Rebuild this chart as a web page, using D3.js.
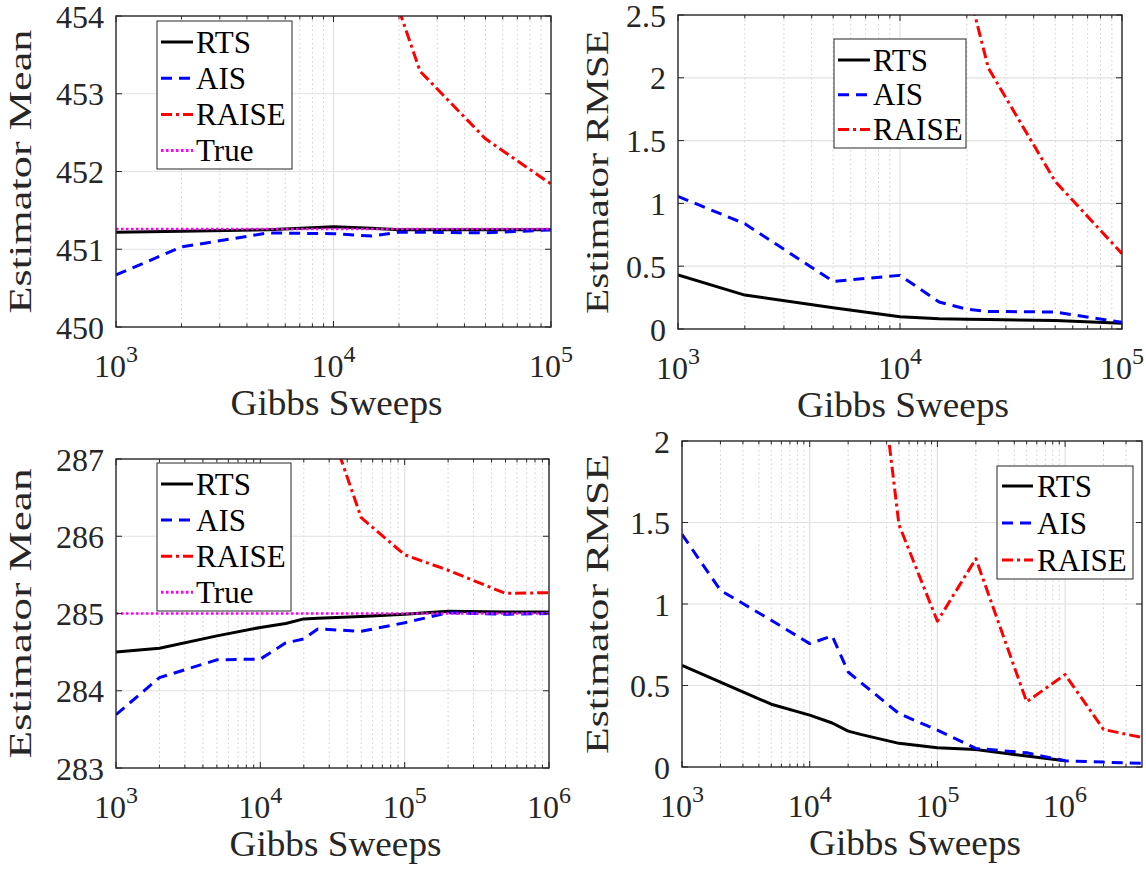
<!DOCTYPE html>
<html><head><meta charset="utf-8">
<script src="https://cdn.jsdelivr.net/npm/d3@7"></script>
<style>body{margin:0;background:#fff}svg{display:block}</style>
</head><body>
<svg id="c" width="1146" height="869" font-family="'Liberation Serif', 'Times New Roman', Times, serif"></svg>
<script>
// ---------- data ----------
const sweepsTop = [1e3, 2e3, 5e3, 1e4, 1.5e4, 2e4, 2.5e4, 5e4, 1e5];
const meanTopRTS   = [451.22, 451.23, 451.25, 451.29, 451.27, 451.25, 451.25, 451.25, 451.25];
const meanTopAIS   = [450.67, 451.03, 451.21, 451.20, 451.17, 451.22, 451.22, 451.21, 451.25];
const meanTopRAISE = [null, null, null, null, null, 454.08, 453.29, 452.42, 451.84];
const meanTopTrue  = 451.26;
const rmseTopRTS   = [0.43, 0.27, 0.17, 0.098, 0.082, 0.078, 0.075, 0.068, 0.046];
const rmseTopAIS   = [1.056, 0.838, 0.379, 0.427, 0.215, 0.158, 0.14, 0.135, 0.053];
const rmseTopRAISE = [null, null, null, null, null, 2.75, 2.078, 1.175, 0.60];

const sweepsBot = [1e3, 2e3, 5e3, 1e4, 1.5e4, 2e4, 2.5e4, 5e4, 1e5, 2e5, 5e5, 1e6, 2e6, 4e6];
const meanBotRTS   = [284.50, 284.55, 284.71, 284.82, 284.87, 284.93, 284.94, 284.96, 284.99, 285.03, 285.02, 285.02, null, null];
const meanBotAIS   = [283.69, 284.17, 284.40, 284.41, 284.62, 284.67, 284.80, 284.77, 284.88, 285.01, 284.99, 285.00, null, null];
const meanBotRAISE = [null, null, null, null, null, null, 287.87, 286.24, 285.76, 285.56, 285.26, 285.27, null, null];
const meanBotTrue  = 285.0;
const rmseBotRTS   = [0.624, 0.52, 0.385, 0.318, 0.27, 0.22, 0.20, 0.145, 0.118, 0.108, 0.067, 0.038, null, null];
const rmseBotAIS   = [1.427, 1.084, 0.90, 0.757, 0.804, 0.583, 0.52, 0.328, 0.226, 0.114, 0.087, 0.038, 0.03, 0.022];
const rmseBotRAISE = [null, null, null, null, null, null, 3.45, 1.486, 0.894, 1.278, 0.40, 0.567, 0.23, 0.181];

const seriesNames = ["RTS", "AIS", "RAISE", "True"];
const yTicksMeanTop = [450, 451, 452, 453, 454];
const yTicksRmseTop = [0, 0.5, 1, 1.5, 2, 2.5];
const yTicksMeanBot = [283, 284, 285, 286, 287];
const yTicksRmseBot = [0, 0.5, 1, 1.5, 2];
const xLabel = "Gibbs Sweeps";
const yLabelMean = "Estimator Mean";
const yLabelRmse = "Estimator RMSE";

// ---------- styles ----------
const FONT = "'Liberation Serif', 'Times New Roman', Times, serif";
const styles = {
  RTS:   {color: "#000000", dash: null,          width: 3},
  AIS:   {color: "#0000ff", dash: "11,7",        width: 3},
  RAISE: {color: "#ff0000", dash: "11,4,3,4",    width: 3},
  True:  {color: "#ff00ff", dash: "2.5,2.5",     width: 3}
};

const svg = d3.select("#c");
const axisColor = "#262626";

function panel(cfg) {
  const {left, right, top, bottom, xDomain, yDomain, yTicks, xs, series, trueVal, legend, yLabel, yLabelX, yLabelLen, id} = cfg;
  const x = d3.scaleLog().domain(xDomain).range([left, right]);
  const y = d3.scaleLinear().domain(yDomain).range([bottom, top]);
  const g = svg.append("g").attr("font-family", FONT);
  g.append("clipPath").attr("id", "clip" + id).append("rect")
    .attr("x", left).attr("y", top).attr("width", right - left).attr("height", bottom - top);
  g.append("rect").attr("x", left).attr("y", top).attr("width", right - left).attr("height", bottom - top).attr("fill", "#fff");

  const allX = x.ticks();
  const isMajor = v => Math.abs(Math.log10(v) - Math.round(Math.log10(v))) < 1e-9;
  const minors = allX.filter(v => !isMajor(v) && v > xDomain[0] && v < xDomain[1]);
  const majors = allX.filter(isMajor);

  g.selectAll(".mg").data(minors).join("line")
    .attr("x1", d => x(d)).attr("x2", d => x(d)).attr("y1", top).attr("y2", bottom)
    .attr("stroke", "#cfcfcf").attr("stroke-width", 1).attr("stroke-dasharray", "1.5,3");
  g.selectAll(".Mg").data(majors.filter(v => v > xDomain[0] && v < xDomain[1])).join("line")
    .attr("x1", d => x(d)).attr("x2", d => x(d)).attr("y1", top).attr("y2", bottom)
    .attr("stroke", "#e1e1e1").attr("stroke-width", 1.2);
  g.selectAll(".yg").data(yTicks.filter(v => v > yDomain[0] && v < yDomain[1])).join("line")
    .attr("x1", left).attr("x2", right).attr("y1", d => y(d)).attr("y2", d => y(d))
    .attr("stroke", "#e1e1e1").attr("stroke-width", 1.2);

  const plot = g.append("g").attr("clip-path", `url(#clip${id})`);
  const line = d3.line().defined(d => d[1] !== null).x(d => x(d[0])).y(d => y(d[1]));
  ["RTS", "AIS", "RAISE"].forEach(name => {
    const s = styles[name];
    const pts = xs.map((v, i) => [v, series[name][i]]);
    plot.append("path").datum(pts).attr("d", line).attr("fill", "none")
      .attr("stroke", s.color).attr("stroke-width", s.width)
      .attr("stroke-dasharray", s.dash).attr("stroke-linejoin", "round");
  });
  if (trueVal !== undefined) {
    const s = styles.True;
    plot.append("path").datum([[xDomain[0], trueVal], [xDomain[1], trueVal]])
      .attr("d", line).attr("fill", "none").attr("stroke", s.color).attr("stroke-width", 2.5)
      .attr("stroke-dasharray", s.dash);
  }

  const tk = g.append("g").attr("stroke", axisColor).attr("stroke-width", 1);
  majors.forEach(v => {
    tk.append("line").attr("x1", x(v)).attr("x2", x(v)).attr("y1", bottom).attr("y2", bottom - 6);
    tk.append("line").attr("x1", x(v)).attr("x2", x(v)).attr("y1", top).attr("y2", top + 6);
  });
  minors.forEach(v => {
    tk.append("line").attr("x1", x(v)).attr("x2", x(v)).attr("y1", bottom).attr("y2", bottom - 3.5);
    tk.append("line").attr("x1", x(v)).attr("x2", x(v)).attr("y1", top).attr("y2", top + 3.5);
  });
  yTicks.forEach(v => {
    tk.append("line").attr("x1", left).attr("x2", left + 6).attr("y1", y(v)).attr("y2", y(v));
    tk.append("line").attr("x1", right).attr("x2", right - 6).attr("y1", y(v)).attr("y2", y(v));
  });
  g.append("rect").attr("x", left).attr("y", top).attr("width", right - left).attr("height", bottom - top)
    .attr("fill", "none").attr("stroke", axisColor).attr("stroke-width", 1.4);

  g.selectAll(".yl").data(yTicks).join("text")
    .attr("font-family", FONT)
    .attr("x", left - 12).attr("y", d => y(d)).attr("dy", "0.36em")
    .attr("text-anchor", "end").attr("font-size", 32).attr("fill", axisColor)
    .text(d => d3.format("~g")(d));
  majors.forEach(v => {
    const t = g.append("text").attr("font-family", FONT).attr("x", x(v)).attr("y", bottom + 50)
      .attr("text-anchor", "middle").attr("font-size", 32).attr("fill", axisColor);
    t.append("tspan").text("10");
    t.append("tspan").attr("font-size", 24).attr("dy", -15).text(Math.round(Math.log10(v)));
  });
  g.append("text").attr("font-family", FONT).attr("x", (left + right) / 2 + 3).attr("y", bottom + 88)
    .attr("text-anchor", "middle").attr("font-size", 35).attr("fill", axisColor)
    .attr("textLength", 212).attr("lengthAdjust", "spacingAndGlyphs").text(xLabel);
  g.append("text").attr("font-family", FONT).attr("transform", `translate(${yLabelX},${(top + bottom) / 2}) rotate(-90)`)
    .attr("text-anchor", "middle").attr("font-size", 31).attr("fill", axisColor)
    .attr("textLength", yLabelLen).attr("lengthAdjust", "spacingAndGlyphs").text(yLabel);

  const L = legend;
  const lg = g.append("g");
  lg.append("rect").attr("x", L.x0).attr("y", L.y0).attr("width", L.x1 - L.x0).attr("height", L.y1 - L.y0)
    .attr("fill", "#fff").attr("stroke", axisColor).attr("stroke-width", 1);
  L.names.forEach((name, i) => {
    const s = styles[name];
    const yy = L.firstY + i * L.step;
    lg.append("line").attr("x1", L.lx0).attr("x2", L.lx1).attr("y1", yy).attr("y2", yy)
      .attr("stroke", s.color).attr("stroke-width", s.width).attr("stroke-dasharray", s.dash);
    lg.append("text").attr("font-family", FONT).attr("x", L.tx).attr("y", yy).attr("dy", "0.34em")
      .attr("font-size", 31).attr("fill", "#000").text(name);
  });
}

panel({id: "A", left: 116, right: 551, top: 16, bottom: 327, xDomain: [1e3, 1e5], yDomain: [450, 454],
  yTicks: yTicksMeanTop, xs: sweepsTop,
  series: {RTS: meanTopRTS, AIS: meanTopAIS, RAISE: meanTopRAISE}, trueVal: meanTopTrue,
  legend: {x0: 157, x1: 292, y0: 21, y1: 169, firstY: 42, step: 36.2, lx0: 161, lx1: 193, tx: 196, names: seriesNames},
  yLabel: yLabelMean, yLabelX: 31, yLabelLen: 284});

panel({id: "B", left: 678, right: 1122, top: 15, bottom: 329, xDomain: [1e3, 1e5], yDomain: [0, 2.5],
  yTicks: yTicksRmseTop, xs: sweepsTop,
  series: {RTS: rmseTopRTS, AIS: rmseTopAIS, RAISE: rmseTopRAISE},
  legend: {x0: 834, x1: 966, y0: 39, y1: 148, firstY: 60, step: 34.7, lx0: 838, lx1: 870, tx: 873, names: seriesNames.slice(0, 3)},
  yLabel: yLabelRmse, yLabelX: 608, yLabelLen: 284});

panel({id: "C", left: 116, right: 549, top: 459, bottom: 768, xDomain: [1e3, 1e6], yDomain: [283, 287],
  yTicks: yTicksMeanBot, xs: sweepsBot,
  series: {RTS: meanBotRTS, AIS: meanBotAIS, RAISE: meanBotRAISE}, trueVal: meanBotTrue,
  legend: {x0: 157, x1: 291, y0: 463, y1: 611, firstY: 484, step: 36.1, lx0: 161, lx1: 193, tx: 196, names: seriesNames},
  yLabel: yLabelMean, yLabelX: 31, yLabelLen: 290});

panel({id: "D", left: 682, right: 1142, top: 441, bottom: 767, xDomain: [1e3, 4e6], yDomain: [0, 2],
  yTicks: yTicksRmseBot, xs: sweepsBot,
  series: {RTS: rmseBotRTS, AIS: rmseBotAIS, RAISE: rmseBotRAISE},
  legend: {x0: 997, x1: 1133, y0: 466, y1: 579, firstY: 486, step: 37, lx0: 1002, lx1: 1033, tx: 1037, names: seriesNames.slice(0, 3)},
  yLabel: yLabelRmse, yLabelX: 608, yLabelLen: 300});
</script>
</body></html>
